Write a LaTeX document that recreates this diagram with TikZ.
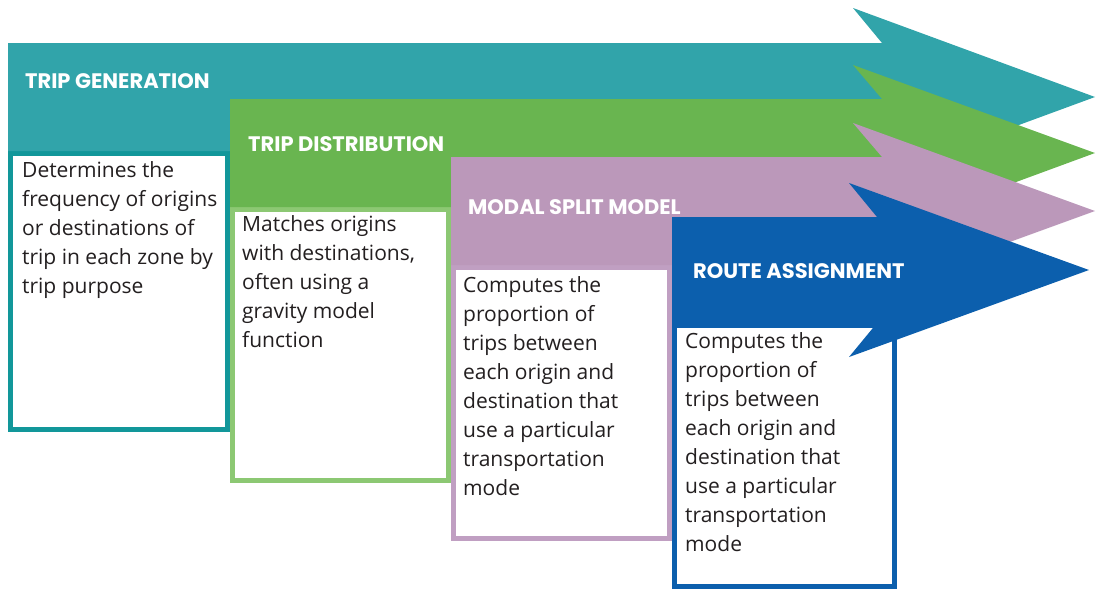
\documentclass[tikz,border=0pt]{standalone}
\usepackage{fontspec}
\setmainfont{Open Sans}
\newfontfamily\titlefont{Poppins}
\definecolor{tealF}{HTML}{31A4AA}
\definecolor{tealB}{HTML}{12979A}
\definecolor{greenF}{HTML}{69B550}
\definecolor{greenB}{HTML}{8CC873}
\definecolor{mauveF}{HTML}{BB98BA}
\definecolor{mauveB}{HTML}{C09FC2}
\definecolor{blueF}{HTML}{0C5FAD}
\definecolor{blueB}{HTML}{0C5FAD}
\definecolor{bodytext}{HTML}{231F20}
\tikzset{
  textbox/.style={fill=white, line width=5pt},
  stagetitle/.style={anchor=base west, inner sep=0pt, text=white, font=\titlefont\bfseries\fontsize{21}{24}\selectfont},
  stagebody/.style={anchor=base west, inner sep=0pt, text=bodytext},
}
\newcommand{\bodytxt}[1]{\parbox[t]{215pt}{\raggedright\fontsize{21}{29}\selectfont #1}}
\begin{document}
\begin{tikzpicture}[x=1pt,y=-1pt]
\useasboundingbox (0,0) rectangle (1100,590);
% Trip generation
\draw[textbox, draw=tealB] (10.5,153.5) rectangle (227.5,429.5);
\fill[tealF] (8,43) -- (882,43) -- (853,8) -- (1095,97) -- (853,186) -- (882,151) -- (8,151) -- cycle;
\node[stagetitle] (t1) at (25,88) {TRIP GENERATION};
\node[stagebody] (b1) at (22,177) {\bodytxt{Determines the\\frequency of origins\\or destinations of\\trip in each zone by\\trip purpose}};
% Trip distribution
\draw[textbox, draw=greenB] (232.5,209.5) rectangle (448.5,480.5);
\fill[greenF] (230,99) -- (882,99) -- (853,65) -- (1095,153) -- (853,242) -- (882,207) -- (230,207) -- cycle;
\node[stagetitle] (t2) at (248,151) {TRIP DISTRIBUTION};
\node[stagebody] (b2) at (242,231) {\bodytxt{Matches origins\\with destinations,\\often using a\\gravity model\\function}};
% Modal split
\draw[textbox, draw=mauveB] (453.5,267.5) rectangle (669.5,538.5);
\fill[mauveF] (451,157) -- (882,157) -- (853,123) -- (1095,211) -- (853,299) -- (882,265) -- (451,265) -- cycle;
\node[stagetitle] (t3) at (468,214) {MODAL SPLIT MODEL};
\node[stagebody] (b3) at (463,292) {\bodytxt{Computes the\\proportion of\\trips between\\each origin and\\destination that\\use a particular\\transportation\\mode}};
% Route assignment
\draw[textbox, draw=blueB] (674.5,325.5) rectangle (894.5,586.5);
\fill[blueF] (672,217) -- (877,217) -- (849,183) -- (1089,270) -- (849,357) -- (877,323) -- (672,323) -- cycle;
\node[stagetitle] (t4) at (693,278) {ROUTE ASSIGNMENT};
\node[stagebody] (b4) at (685,348) {\bodytxt{Computes the\\proportion of\\trips between\\each origin and\\destination that\\use a particular\\transportation\\mode}};
\end{tikzpicture}
\end{document}
